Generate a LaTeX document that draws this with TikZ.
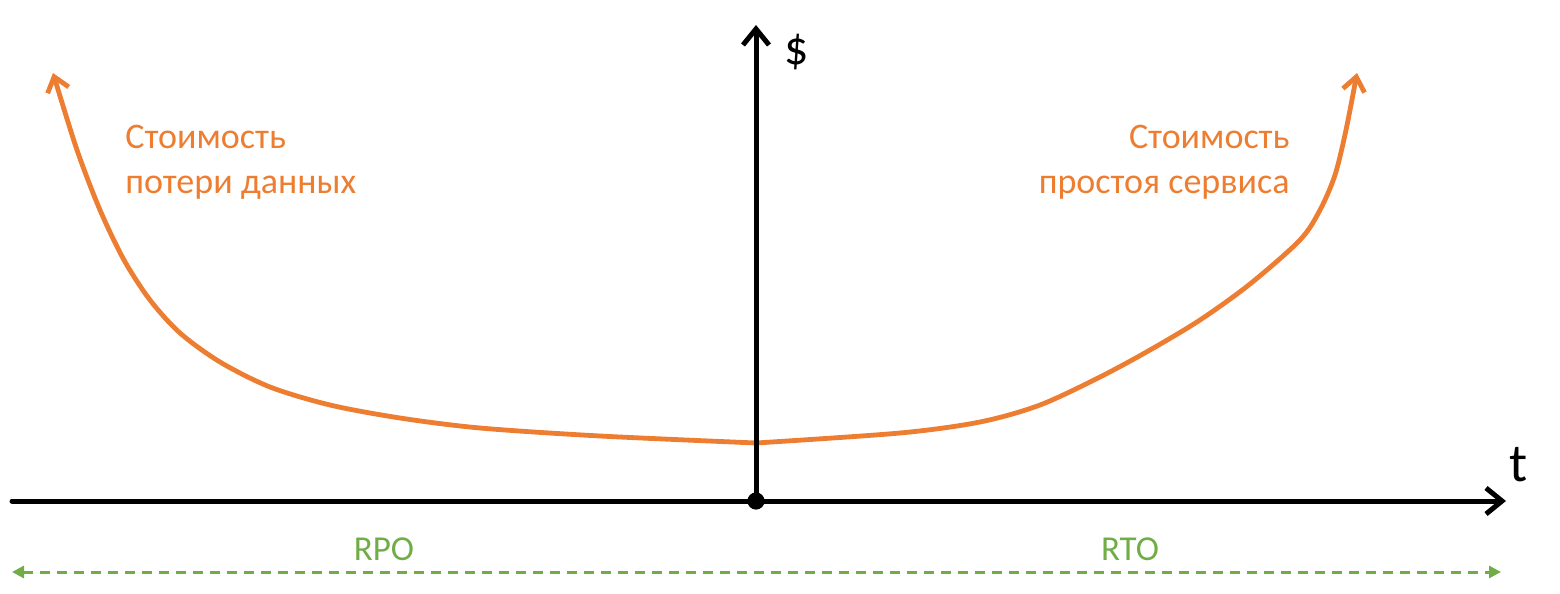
\documentclass[tikz,border=0pt]{standalone}
\usepackage{fontspec}
\setmainfont{Carlito}
\usetikzlibrary{arrows.meta}
\definecolor{curveor}{HTML}{ED7D31}
\definecolor{dimgreen}{HTML}{70AD47}
\begin{document}
\begin{tikzpicture}[x=0.5pt,y=-0.5pt,
  axisline/.style={line width=2.5pt,black,line cap=round,-{Straight Barb[length=8pt,width=13pt,line width=2.5pt]}},
  costcurve/.style={line width=2.4pt,curveor,line cap=round,-{Straight Barb[length=7pt,width=11pt,line width=2.4pt]}},
  dimline/.style={line width=1.5pt,dimgreen,dash pattern=on 5pt off 3.5pt,{Triangle[length=6pt,width=6pt]}-{Triangle[length=6pt,width=6pt]}},
  costlabel/.style={inner sep=0pt,text=curveor,font=\fontsize{18}{21}\selectfont},
  dimlabel/.style={inner sep=0pt,text=dimgreen,font=\fontsize{17.5}{21}\selectfont},
  axislabel/.style={inner sep=0pt,text=black}]
\useasboundingbox (0,0) rectangle (1560,594);
% coordinates
\coordinate (O) at (756,501);
\coordinate (Ytip) at (756,25);
\coordinate (Xstart) at (12,501);
\coordinate (Xtip) at (1506,501);
\coordinate (Min) at (756,443);
\coordinate (Dl) at (12,572);
\coordinate (Dr) at (1501,572);
% curves
\draw[costcurve] plot[smooth] coordinates {(756,443) (600,436) (480,428) (400,418) (330,405) (270,387) (220,362) (180,333) (150,300) (124,260) (100,210) (77,150) (53,73)};
\draw[costcurve] plot[smooth] coordinates {(756,443) (900,433) (980,422) (1040,405) (1100,377) (1150,350) (1200,320) (1250,284) (1300,240) (1320,210) (1335,175) (1346,130) (1357,73)};
% axes
\draw[axisline] (O) -- (Ytip);
\draw[axisline] (Xstart) -- (Xtip);
\fill (O) circle (4.3pt);
\node[axislabel,font=\fontsize{24}{28}\selectfont] (dollar) at (797,52) {\$};
\node[axislabel,font=\fontsize{27}{30}\selectfont,anchor=base west] (tlab) at (1509,481) {t};
% labels
\node[costlabel,anchor=base west] (l1) at (125,148) {Стоимость};
\node[costlabel,anchor=base west] (l2) at (125,193) {потери данных};
\node[costlabel,anchor=base east] (r1) at (1290,148) {Стоимость};
\node[costlabel,anchor=base east] (r2) at (1290,193) {простоя сервиса};
% dimension
\draw[dimline] (Dl) -- (Dr);
\node[dimlabel,anchor=base] (rpo) at (384,560) {RPO};
\node[dimlabel,anchor=base] (rto) at (1130,560) {RTO};
\end{tikzpicture}
\end{document}
